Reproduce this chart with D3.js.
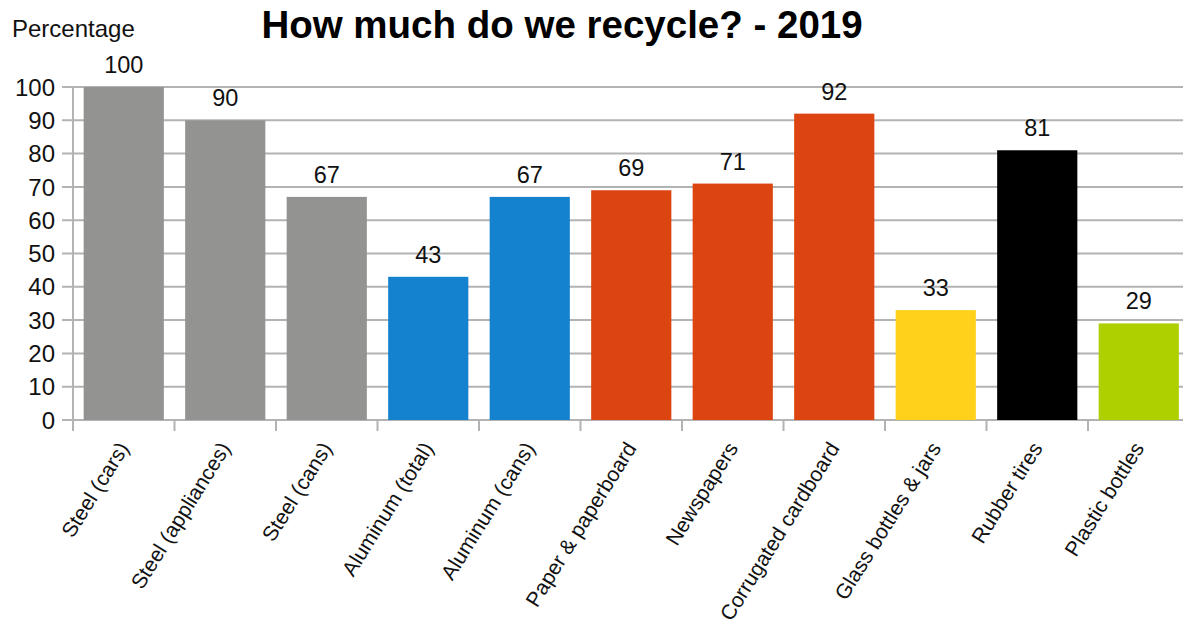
<!DOCTYPE html>
<html><head><meta charset="utf-8">
<script src="https://cdn.jsdelivr.net/npm/d3@7"></script>
<style>body{margin:0;background:#fff;}svg{display:block;font-family:"Liberation Sans",Arial,sans-serif;}</style>
</head><body>
<svg id="c" width="1183" height="629"></svg>
<script>
const categories = ["Steel (cars)","Steel (appliances)","Steel (cans)","Aluminum (total)","Aluminum (cans)","Paper & paperboard","Newspapers","Corrugated cardboard","Glass bottles & jars","Rubber tires","Plastic bottles"];
const values = [100,90,67,43,67,69,71,92,33,81,29];
const colors = ["#939392","#939392","#939392","#1582d0","#1582d0","#dc4511","#dc4511","#dc4511","#ffd11a","#000000","#aecf00"];
const yTicks = [0,10,20,30,40,50,60,70,80,90,100];
const title = "How much do we recycle? - 2019";
const yLabel = "Percentage";

const svg = d3.select("#c");
const x = d3.scaleBand().domain(categories).range([73,1189.5]).paddingInner(0.21).paddingOuter(0.105);
const y = d3.scaleLinear().domain([0,100]).range([420,87]);

// gridlines
svg.append("g").selectAll("line").data(yTicks).join("line")
  .attr("x1",62).attr("x2",1183).attr("y1",d=>y(d)).attr("y2",d=>y(d))
  .attr("stroke","#b3b3b3").attr("stroke-width",2);
// y axis line
svg.append("line").attr("x1",73).attr("x2",73).attr("y1",y(100)).attr("y2",431).attr("stroke","#b3b3b3").attr("stroke-width",2);
// category tick marks
const step = x.step();
const bounds = d3.range(categories.length).map(i=>73+i*step);
svg.append("g").selectAll("line").data(bounds).join("line")
  .attr("x1",d=>d).attr("x2",d=>d).attr("y1",420).attr("y2",431).attr("stroke","#b3b3b3").attr("stroke-width",2);

// y tick labels
svg.append("g").selectAll("text").data(yTicks).join("text")
  .attr("x",55).attr("y",d=>y(d)).attr("dy","0.36em").attr("text-anchor","end")
  .attr("font-size",24).attr("fill","#111").text(d=>d);

// bars
svg.append("g").selectAll("rect").data(categories).join("rect")
  .attr("x",d=>x(d)).attr("width",x.bandwidth())
  .attr("y",(d,i)=>y(values[i])).attr("height",(d,i)=>y(0)-y(values[i]))
  .attr("fill",(d,i)=>colors[i]);

// value labels
svg.append("g").selectAll("text").data(categories).join("text")
  .attr("x",d=>x(d)+x.bandwidth()/2).attr("y",(d,i)=>y(values[i])-14)
  .attr("text-anchor","middle").attr("font-size",23.5).attr("fill","#111")
  .text((d,i)=>values[i]);

// category labels
svg.append("g").selectAll("text").data(categories).join("text")
  .attr("transform",d=>`translate(${x(d)+x.bandwidth()/2+6},448) rotate(-58)`)
  .attr("text-anchor","end").attr("font-size",21).attr("fill","#111").text(d=>d);

// title
svg.append("text").attr("x",562).attr("y",38).attr("text-anchor","middle")
  .attr("font-size",38.5).attr("font-weight","bold").attr("fill","#000").text(title);
svg.append("text").attr("x",12).attr("y",37).attr("font-size",24).attr("fill","#111").text(yLabel);
</script>
</body></html>
